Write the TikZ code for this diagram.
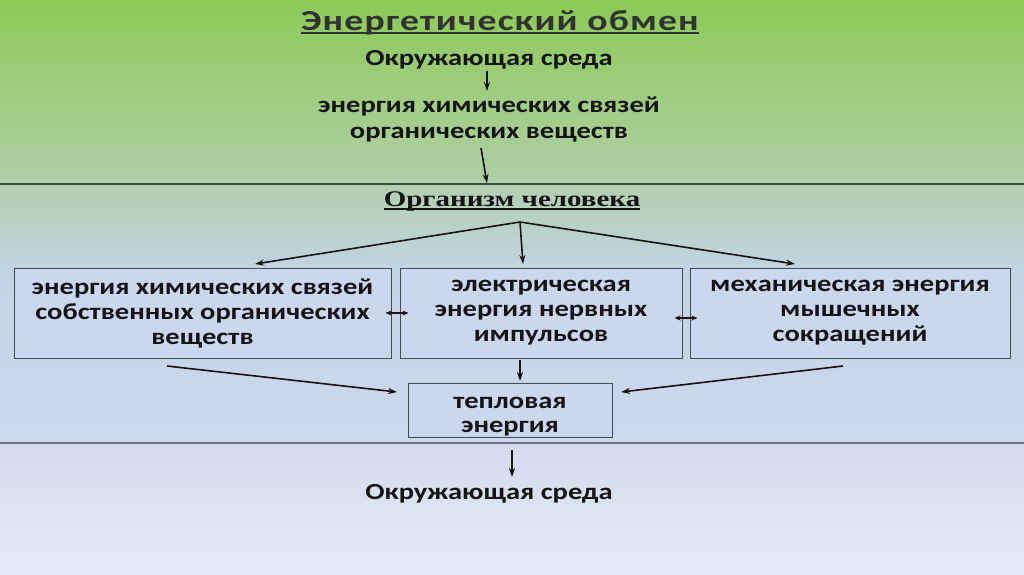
\documentclass[tikz,border=0pt]{standalone}
\usepackage{fontspec}
\setmainfont{Carlito}[FakeStretch=1.24]
\newfontfamily\titlefont{Carlito}[FakeStretch=1.3,LetterSpace=4]
\newfontfamily\tnr{Liberation Serif}[FakeStretch=1.3]
\usetikzlibrary{arrows.meta}
\definecolor{bgA}{RGB}{140,202,86}
\definecolor{bgB}{RGB}{176,207,168}
\definecolor{bgC}{RGB}{178,207,174}
\definecolor{bgD}{RGB}{195,211,228}
\definecolor{bgE}{RGB}{206,216,238}
\definecolor{bgF}{RGB}{211,220,238}
\definecolor{bgG}{RGB}{228,233,245}
\definecolor{boxfill}{RGB}{202,215,238}
\definecolor{boxdraw}{RGB}{70,74,82}
\definecolor{ink}{RGB}{20,20,20}
\definecolor{titleink}{RGB}{50,50,50}
\begin{document}
\begin{tikzpicture}[x=1pt,y=-1pt,
  txt/.style={font=\fontsize{23}{25}\selectfont\bfseries, text=ink, align=center, inner sep=0pt},
  ebox/.style={draw=boxdraw, line width=1pt, fill=boxfill, inner sep=0pt, minimum height=90pt, align=center, text=ink, font=\fontsize{23}{25}\selectfont\bfseries},
  arr/.style={-{Stealth[length=9pt,width=6pt]}, line width=1.6pt, draw=ink},
  darr/.style={{Stealth[length=6pt,width=5pt]}-{Stealth[length=6pt,width=5pt]}, line width=1.3pt, draw=ink}
]
\useasboundingbox (0,0) rectangle (1024,574);
\shade[top color=bgA, bottom color=bgB] (0,0) rectangle (1024,184);
\shade[top color=bgC, bottom color=bgD] (0,184) rectangle (1024,270);
\shade[top color=bgD, bottom color=bgE] (0,270) rectangle (1024,443);
\shade[top color=bgF, bottom color=bgG] (0,443) rectangle (1024,574);
\draw[line width=1.5pt, draw={rgb,255:red,60;green,75;blue,60}] (0,184) -- (1024,184);
\draw[line width=1.5pt, draw={rgb,255:red,110;green,118;blue,135}] (0,443) -- (1024,443);

\node[font=\titlefont\fontsize{29}{30}\selectfont\bfseries, text=titleink, inner sep=0pt] (title) at (500,23) {Энергетический обмен};
\draw[line width=2pt, draw=titleink] ([yshift=-2pt]title.base west) -- ([yshift=-2pt]title.base east);

\node[txt] (env1) at (489,60) {Окружающая среда};
\node[txt, font=\fontsize{23}{26}\selectfont\bfseries] (chem) at (489,119) {энергия химических связей\\органических веществ};
\node[font=\tnr\fontsize{22.3}{23}\selectfont\bfseries, text=ink, inner sep=0pt] (org) at (512,201) {Организм человека};
\draw[line width=1.8pt, draw=ink] ([yshift=-3pt]org.base west) -- ([yshift=-3pt]org.base east);

\node[ebox, minimum width=377pt] (box1) at (202.5,313) {энергия химических связей\\собственных органических\\веществ};
\node[ebox, minimum width=282pt] (box2) at (541,313) {электрическая\\энергия нервных\\импульсов};
\node[ebox, minimum width=320pt] (box3) at (850,313) {механическая энергия\\мышечных\\сокращений};
\node[ebox, minimum width=204pt, minimum height=54pt] (heat) at (510,410) {};
\node[txt, font=\fontsize{23}{24}\selectfont\bfseries] (heattxt) at ([yshift=-7pt]heat.center) {тепловая\\энергия};

\node[txt] (env2) at (489,494) {Окружающая среда};

\coordinate (a1s) at (487,71);
\coordinate (a1e) at (487,91);
\draw[arr] (a1s) -- (a1e);
\coordinate (a2s) at (481,148);
\coordinate (a2e) at (487,183);
\draw[arr] (a2s) -- (a2e);

\coordinate (hub) at (520,222);
\coordinate (t1) at (255,264);
\coordinate (t2) at (523,264);
\coordinate (t3) at (795,264);
\draw[arr] (hub) -- (t1);
\draw[arr] (hub) -- (t2);
\draw[arr] (hub) -- (t3);

\draw[darr] ([xshift=-6pt]box1.east) -- ([xshift=9pt]box2.west);
\draw[darr] ([xshift=-8pt,yshift=-5pt]box2.east) -- ([xshift=8pt,yshift=-5pt]box3.west);

\coordinate (d2s) at (520,360);
\coordinate (d2e) at (520,381);
\draw[arr] (d2s) -- (d2e);
\coordinate (d1s) at (167,366);
\coordinate (d1e) at (397,392);
\draw[arr] (d1s) -- (d1e);
\coordinate (d3s) at (843,366);
\coordinate (d3e) at (621,392);
\draw[arr] (d3s) -- (d3e);

\coordinate (b1s) at (512,450);
\coordinate (b1e) at (512,477);
\draw[arr] (b1s) -- (b1e);
\end{tikzpicture}
\end{document}
